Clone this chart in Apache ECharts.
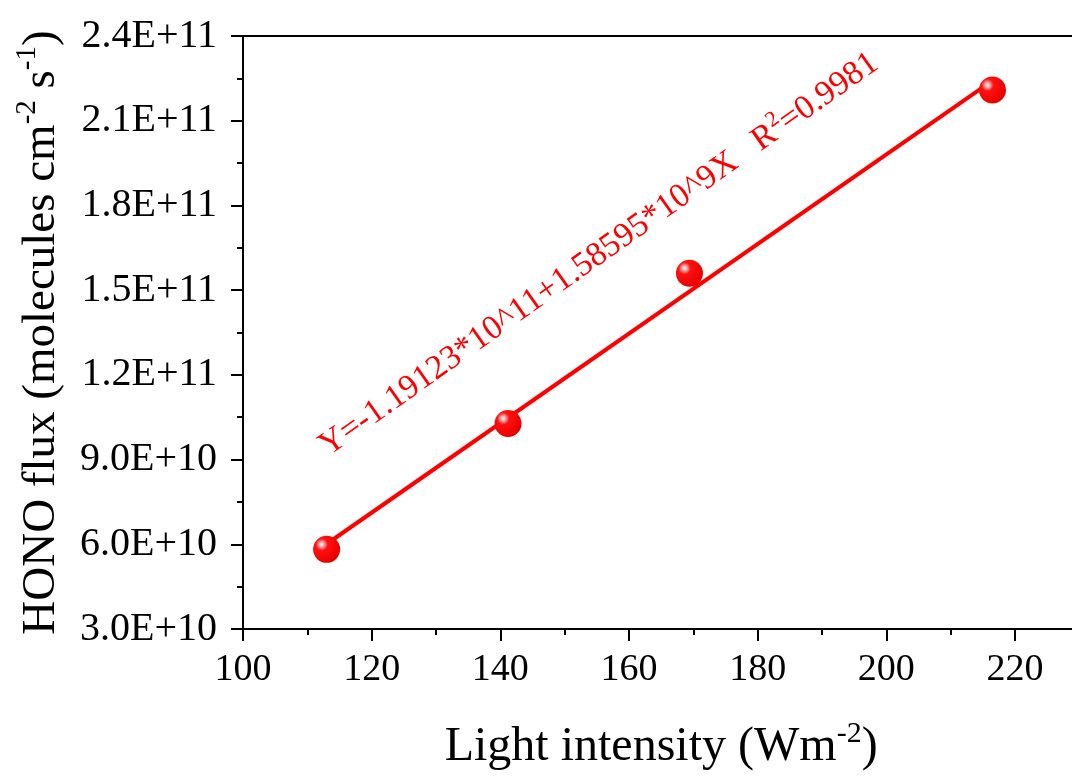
<!DOCTYPE html>
<html>
<head>
<meta charset="utf-8">
<script src="https://cdn.jsdelivr.net/npm/echarts@6/dist/echarts.min.js"></script>
<style>
html,body{margin:0;padding:0;background:#fff;}
#chart{width:1072px;height:778px;}
</style>
</head>
<body>
<div id="chart"></div>
<script>
// Data
var lightIntensity = [113.0, 141.2, 169.4, 216.5];
var honoFlux = [5.82e10, 1.028e11, 1.56e11, 2.209e11];
// Linear fit end points (Y = -1.19123e11 + 1.58595e9 X)
var fitX = [113.0, 216.5];
var fitY = [6.01e10, 2.242e11];
var yTickLabels = ['3.0E+10', '6.0E+10', '9.0E+10', '1.2E+11', '1.5E+11', '1.8E+11', '2.1E+11', '2.4E+11'];
var xTickLabels = ['100', '120', '140', '160', '180', '200', '220'];
var fitText = 'Y=-1.19123*10^11+1.58595*10^9X   R';

var FONT = 'Liberation Serif';
var chart = echarts.init(document.getElementById('chart'));

var scatterData = lightIntensity.map(function (x, i) { return [x, honoFlux[i]]; });
var fitData = fitX.map(function (x, i) { return [x, fitY[i]]; });

var ballColor = {
  type: 'radial', x: 0.32, y: 0.32, r: 0.7,
  colorStops: [
    { offset: 0, color: '#ffffff' },
    { offset: 0.1, color: '#ffc0c0' },
    { offset: 0.32, color: '#ff1010' },
    { offset: 1, color: '#e80000' }
  ]
};

var option = {
  backgroundColor: '#ffffff',
  animation: false,
  textStyle: { fontFamily: FONT },
  grid: { left: 243, top: 36, bottom: 149, right: -7.3, containLabel: false, outerBoundsMode: 'none' },
  xAxis: [{
    type: 'value', min: 100, max: 230, interval: 20, position: 'bottom',
    name: '{t|Light intensity (Wm}{s|-2}{t|)}',
    nameLocation: 'middle', nameGap: 90,
    nameTextStyle: {
      rich: {
        t: { fontFamily: FONT, fontSize: 48, color: '#000', lineHeight: 52, verticalAlign: 'bottom' },
        s: { fontFamily: FONT, fontSize: 30, color: '#000', lineHeight: 52, verticalAlign: 'top', padding: [0, 0, 26, 0] }
      }
    },
    axisLine: { show: true, onZero: false, lineStyle: { color: '#000', width: 2 } },
    axisTick: { show: true, inside: false, length: 12, lineStyle: { color: '#000', width: 2 } },
    minorTick: { show: true, splitNumber: 2, length: 6, lineStyle: { color: '#000', width: 2 } },
    splitLine: { show: false },
    axisLabel: {
      show: true, margin: 22, color: '#000', fontFamily: FONT, fontSize: 38,
      showMaxLabel: false,
      formatter: function (v) {
        var idx = Math.round((v - 100) / 20);
        return (Math.abs(v - 100 - idx * 20) < 1e-6 && xTickLabels[idx]) ? xTickLabels[idx] : '';
      }
    }
  }, {
    type: 'value', min: 100, max: 230, position: 'top',
    axisLine: { show: true, onZero: false, lineStyle: { color: '#000', width: 2 } },
    axisTick: { show: false }, axisLabel: { show: false }, splitLine: { show: false }
  }],
  yAxis: {
    type: 'value', min: 3e10, max: 2.4e11, interval: 3e10,
    name: '{t|HONO flux (molecules cm}{s|-2}{t| s}{s|-1}{t|)}',
    nameLocation: 'middle', nameGap: 178,
    nameTextStyle: {
      rich: {
        t: { fontFamily: FONT, fontSize: 47, color: '#000', lineHeight: 52, verticalAlign: 'bottom' },
        s: { fontFamily: FONT, fontSize: 29, color: '#000', lineHeight: 52, verticalAlign: 'top', padding: [0, 0, 26, 0] }
      }
    },
    axisLine: { show: true, onZero: false, lineStyle: { color: '#000', width: 2 } },
    axisTick: { show: true, inside: false, length: 12, lineStyle: { color: '#000', width: 2 } },
    minorTick: { show: true, splitNumber: 2, length: 6, lineStyle: { color: '#000', width: 2 } },
    splitLine: { show: false },
    axisLabel: {
      show: true, margin: 26, color: '#000', fontFamily: FONT, fontSize: 40,
      formatter: function (v) {
        var idx = Math.round((v - 3e10) / 3e10);
        return yTickLabels[idx] || '';
      }
    }
  },
  series: [{
    type: 'line', data: fitData, xAxisIndex: 0, symbol: 'none', z: 2,
    lineStyle: { color: '#ff0000', width: 4 }
  }, {
    type: 'scatter', data: scatterData, xAxisIndex: 0, symbol: 'circle', symbolSize: 27, z: 3,
    itemStyle: { color: ballColor, opacity: 1 }
  }],
  graphic: [{
    type: 'text',
    x: 333, y: 463,
    rotation: 35.2 * Math.PI / 180,
    z: 10,
    style: {
      text: '{a|' + fitText + '}{b|2}{a|=0.9981}',
      align: 'left', verticalAlign: 'bottom',
      rich: {
        a: { fontFamily: FONT, fontSize: 34, fill: '#ff0000', lineHeight: 38, verticalAlign: 'bottom' },
        b: { fontFamily: FONT, fontSize: 22, fill: '#ff0000', lineHeight: 38, verticalAlign: 'top', padding: [0, 0, 18, 0] }
      }
    }
  }]
};
chart.setOption(option);
</script>
</body>
</html>
